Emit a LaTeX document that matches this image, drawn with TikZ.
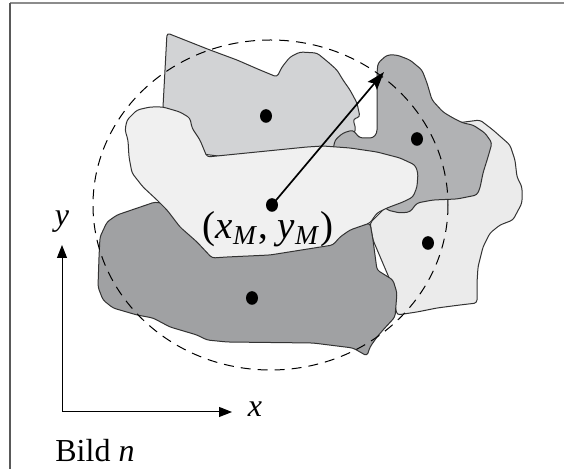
\documentclass[tikz,border=0pt]{standalone}
\usepackage{fontspec}
\setmainfont{Liberation Serif}
\usetikzlibrary{arrows.meta,shapes.geometric}
\definecolor{grayTop}{HTML}{D2D3D5}
\definecolor{grayMid}{HTML}{F0F0F0}
\definecolor{grayLow}{HTML}{A0A1A3}
\definecolor{grayRgt}{HTML}{B1B2B4}
\definecolor{grayPal}{HTML}{EBEBEB}
\definecolor{edge}{HTML}{333333}
\begin{document}
\begin{tikzpicture}[x=0.5pt,y=-0.5pt,
  blob/.style={draw=edge,line width=0.5pt,line join=round,rounded corners=1.5pt},
  dot/.style={ellipse,fill=black,inner sep=0pt,minimum width=6pt,minimum height=6.8pt},
  vec/.style={line width=0.85pt,-{Stealth[length=9pt,width=6pt,inset=1.5pt]}},
  axis/.style={line width=0.5pt,-{Triangle[length=6.5pt,width=5pt]}},
  lab/.style={font=\fontsize{16}{18}\selectfont,inner sep=0pt}]
\useasboundingbox (0,0) rectangle (564,469);
\fill[white] (0,0) rectangle (564,469);
\draw[line width=1pt,gray!90] (10,3) -- (564,3);
\draw[line width=1pt,black!65] (10,3) -- (10,469);
% segments
\draw[blob,fill=grayPal] (457,123) -- (480,120) -- (493,130) -- (510,145) -- (515,160) -- (517,177) -- (522,187)
  -- (522,203) -- (513,220) -- (500,225) -- (490,233) -- (483,247) -- (478,267) -- (477,283) -- (477,303)
  -- (460,305) -- (437,308) -- (417,312) -- (397,315) -- (390,280) -- (373,240) -- (370,223) -- (383,210)
  -- (420,160) -- cycle;
\draw[blob,fill=grayLow] (155,202) -- (117,215) -- (107,222) -- (100,237) -- (99,257) -- (98,287) -- (103,300)
  -- (113,308) -- (137,315) -- (153,318) -- (170,327) -- (197,335) -- (207,340) -- (227,342) -- (313,343)
  -- (353,348) -- (367,356) -- (370,347) -- (377,337) -- (383,330) -- (395,317) -- (397,293) -- (393,280)
  -- (377,270) -- (373,240) -- (370,223) -- (353,228) -- (300,230) -- cycle;
\draw[blob,fill=grayTop] (167,33) -- (210,50) -- (237,60) -- (260,70) -- (277,77) -- (282,67) -- (290,57)
  -- (300,52) -- (317,53) -- (328,62) -- (337,70) -- (343,80) -- (350,90) -- (357,103) -- (360,117)
  -- (353,119) -- (356,130) -- (345,145) -- (250,160) -- (170,150) -- (163,107) -- cycle;
\draw[blob,fill=grayRgt] (378,63) -- (387,55) -- (397,55) -- (410,60) -- (422,70) -- (427,83) -- (432,100)
  -- (443,112) -- (453,118) -- (463,123) -- (473,125) -- (485,133) -- (492,143) -- (488,157) -- (483,173)
  -- (480,188) -- (477,195) -- (457,199) -- (433,200) -- (417,203) -- (410,212) -- (400,213) -- (387,210)
  -- (360,170) -- (333,150) -- (335,140) -- (343,133) -- (353,130) -- (357,135) -- (360,138) -- (373,138)
  -- (377,133) -- (377,73) -- cycle;
\draw[blob,fill=grayMid] (137,110) -- (150,107) -- (163,107) -- (180,112) -- (190,118) -- (192,128) -- (200,140)
  -- (207,157) -- (257,152) -- (307,147) -- (323,146) -- (350,148) -- (377,152) -- (400,158) -- (415,165)
  -- (418,173) -- (417,187) -- (413,197) -- (403,202) -- (387,208) -- (377,213) -- (370,223) -- (350,230)
  -- (340,237) -- (333,245) -- (270,255) -- (227,257) -- (212,258) -- (197,242) -- (180,227) -- (167,210)
  -- (157,200) -- (143,187) -- (132,173) -- (129,157) -- (128,140) -- (125,130) -- (127,120) -- cycle;
% enclosing ellipse
\draw[line width=0.5pt,dash pattern=on 5pt off 3.5pt] (270.5,205) ellipse [x radius=177.5,y radius=165];
% centres
\node[dot] (cTop) at (266,116) {};
\node[dot] (cRgt) at (417,139) {};
\node[dot] (cPal) at (428,243) {};
\node[dot] (cLow) at (252,298) {};
\node[dot] (cM) at (272,205) {};
\coordinate (rim) at (384,72);
\draw[vec] (cM.center) -- (rim);
\node[lab,font=\fontsize{19.5}{22}\selectfont] (lblM) at (268,229)
  {(\textit{x}\textsubscript{\textit{M}}, \textit{y}\textsubscript{\textit{M}})};
% axes
\coordinate (O) at (62,412);
\coordinate (ytip) at (62,245);
\coordinate (xtip) at (232,412);
\draw[axis] (O) -- (ytip);
\draw[axis] (O) -- (xtip);
\node[lab] (ylab) at (62,222) {\textit{y}};
\node[lab] (xlab) at (255,409) {\textit{x}};
\node[lab,anchor=west] (bild) at (55,451) {Bild \textit{n}};
\end{tikzpicture}
\end{document}
